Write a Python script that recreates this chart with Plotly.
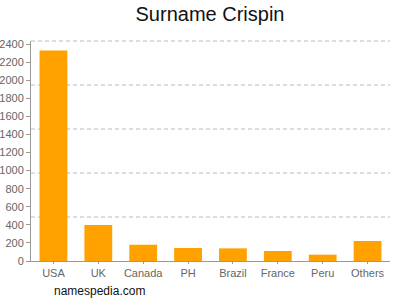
import plotly.graph_objects as go

categories = ["USA", "UK", "Canada", "PH", "Brazil", "France", "Peru", "Others"]
counts = [2330, 397, 180, 144, 140, 111, 70, 221]
y_ticks = list(range(0, 2401, 200))
y_max = 2434
grid_fracs = [0.2, 0.4, 0.6, 0.8, 1.0]

fig = go.Figure()
fig.add_trace(go.Bar(
    x=categories, y=counts,
    marker=dict(color="#FFA200", line=dict(width=0)),
    width=0.62,
))

for f in grid_fracs:
    fig.add_shape(type="line", xref="paper", yref="paper", x0=0, x1=1, y0=f, y1=f,
                  line=dict(color="#BBBBBB", width=1, dash="4px,3px"), layer="below")

fig.update_layout(
    width=400, height=300,
    margin=dict(l=31, r=10, t=41, b=39),
    plot_bgcolor="white", paper_bgcolor="white",
    showlegend=False,
    title=dict(text="Surname Crispin", x=0.525, xanchor="center", y=0.955, yanchor="middle",
               font=dict(family="Liberation Sans, Arial, sans-serif", size=20, color="#111")),
    font=dict(family="Liberation Sans, Arial, sans-serif", size=11, color="#555"),
    xaxis=dict(showline=True, linecolor="#999", linewidth=1, ticks="outside", ticklen=2,
               tickcolor="#999", showgrid=False, automargin=False,
               tickfont=dict(size=11, color="#666")),
    yaxis=dict(range=[0, y_max], tickvals=y_ticks, showline=True, linecolor="#999",
               linewidth=1, ticks="outside", ticklen=4, tickcolor="#999", showgrid=False,
               zeroline=False, automargin=False, tickfont=dict(size=11, color="#666")),
    bargap=0.38,
)

fig.add_annotation(text="namespedia.com", xref="paper", yref="paper", x=0.058, y=-0.136,
                   xanchor="left", yanchor="middle", showarrow=False,
                   font=dict(family="Liberation Sans, Arial, sans-serif", size=12, color="#111"))

fig.write_html("out.html")
